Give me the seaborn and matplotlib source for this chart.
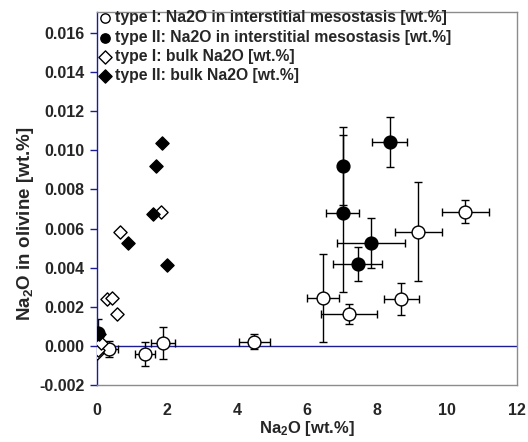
import matplotlib
matplotlib.use("Agg")
import matplotlib.pyplot as plt
import seaborn as sns
import numpy as np
import pandas as pd

# ---- data ----
x_t1_meso = [0.33, 1.38, 1.89, 4.50, 6.45, 7.20, 8.69, 9.18, 10.53]
y_t1_meso = [-0.00017, -0.00041, 0.00014, 0.00022, 0.00245, 0.00163, 0.0024, 0.00585, 0.00687]
xerr_t1_meso = [0.27, 0.28, 0.34, 0.44, 0.46, 0.79, 0.5, 0.67, 0.66]
yerr_t1_meso = [0.0004, 0.0006, 0.00083, 0.0004, 0.00227, 0.00051, 0.0008, 0.00254, 0.0006]

x_t2_meso = [0.04, 7.02, 7.02, 7.45, 7.83, 8.37]
y_t2_meso = [0.00068, 0.0092, 0.00678, 0.0042, 0.00527, 0.01043]
xerr_t2_meso = [0.0, 0.0, 0.47, 0.7, 0.97, 0.5]
yerr_t2_meso = [0.0007, 0.002, 0.004, 0.00086, 0.00128, 0.00126]

x_t1_bulk = [0.0, 0.02, 0.12, 0.30, 0.42, 0.56, 0.66, 1.82]
y_t1_bulk = [-0.00037, -0.0002, 0.00014, 0.00241, 0.00245, 0.00164, 0.00583, 0.00686]

x_t2_bulk = [0.05, 0.90, 1.61, 1.68, 1.86, 2.01]
y_t2_bulk = [0.0006, 0.00525, 0.00677, 0.0092, 0.0104, 0.00415]

labels = ["type I: Na2O in interstitial mesostasis [wt.%]",
          "type II: Na2O in interstitial mesostasis [wt.%]",
          "type I: bulk Na2O [wt.%]",
          "type II: bulk Na2O [wt.%]"]
x_ticks = [0, 2, 4, 6, 8, 10, 12]
y_ticks = [-0.002, 0.0, 0.002, 0.004, 0.006, 0.008, 0.010, 0.012, 0.014, 0.016]

sns.set_style("white")
plt.rcParams['font.family'] = ['Liberation Sans', 'DejaVu Sans']
plt.rcParams['mathtext.fontset'] = 'custom'
plt.rcParams['mathtext.rm'] = 'Liberation Sans:bold'
plt.rcParams['mathtext.bf'] = 'Liberation Sans:bold'
plt.rcParams['mathtext.it'] = 'Liberation Sans:bold'

fig = plt.figure(figsize=(5.28, 4.42), dpi=100)
ax = fig.add_axes([0.1837, 0.129, 0.7953, 0.844])

blue = "#1c1c96"
grey = "#8c8c8c"

# zero line
ax.axhline(0, color=blue, lw=1, zorder=1)

# error bars
ax.errorbar(x_t1_meso, y_t1_meso, xerr=xerr_t1_meso, yerr=yerr_t1_meso, fmt='none',
            ecolor='black', elinewidth=1, capsize=3, capthick=1, zorder=2)
ax.errorbar(x_t2_meso, y_t2_meso, xerr=xerr_t2_meso, yerr=yerr_t2_meso, fmt='none',
            ecolor='black', elinewidth=1, capsize=3, capthick=1, zorder=2)

df = pd.concat([
    pd.DataFrame({"x": x_t1_meso, "y": y_t1_meso, "s": labels[0]}),
    pd.DataFrame({"x": x_t2_meso, "y": y_t2_meso, "s": labels[1]}),
    pd.DataFrame({"x": x_t1_bulk, "y": y_t1_bulk, "s": labels[2]}),
    pd.DataFrame({"x": x_t2_bulk, "y": y_t2_bulk, "s": labels[3]}),
])

styles = {labels[0]: ("o", "white", 85), labels[1]: ("o", "black", 85),
          labels[2]: ("D", "white", 45), labels[3]: ("D", "black", 45)}
for lab in labels:
    m, fc, s = styles[lab]
    sub = df[df["s"] == lab]
    sns.scatterplot(data=sub, x="x", y="y", marker=m, color=fc, edgecolor="black",
                    linewidth=1, s=s, ax=ax, label=lab, zorder=3)

ax.set_xlim(0, 12)
ax.set_ylim(-0.002, 0.01708)
ax.set_xticks(x_ticks)
ax.set_xticklabels([str(t) for t in x_ticks])
ax.set_yticks(y_ticks)
ax.set_yticklabels(["%.3f" % t for t in y_ticks])
ax.tick_params(axis='x', length=0, pad=13, labelsize=11.5)
ax.tick_params(axis='y', length=5, width=1, color=blue, direction='out', left=True,
               labelsize=11.5, pad=4)
for lab in ax.get_xticklabels() + ax.get_yticklabels():
    lab.set_fontweight('bold')

ax.set_xlabel(r"Na$_2$O [wt.%]", fontsize=12, fontweight='bold', labelpad=1)
ax.set_ylabel(r"Na$_2$O in olivine [wt.%]", fontsize=13.5, fontweight='bold')
ax.yaxis.set_label_coords(-0.146, 0.432)

for side in ["top", "right", "bottom"]:
    ax.spines[side].set_color(grey)
    ax.spines[side].set_linewidth(1)
ax.spines["left"].set_color(blue)
ax.spines["left"].set_linewidth(1)

leg = ax.legend(loc='upper left', bbox_to_anchor=(0.006, 1.004), frameon=False,
                prop={'weight': 'bold', 'size': 11.3},
                handletextpad=0.3, borderaxespad=0.0, labelspacing=0.27,
                borderpad=0.0, handlelength=0.7)
for h in leg.legend_handles:
    h.set_sizes([45])

fig.savefig("out.png", dpi=100)
